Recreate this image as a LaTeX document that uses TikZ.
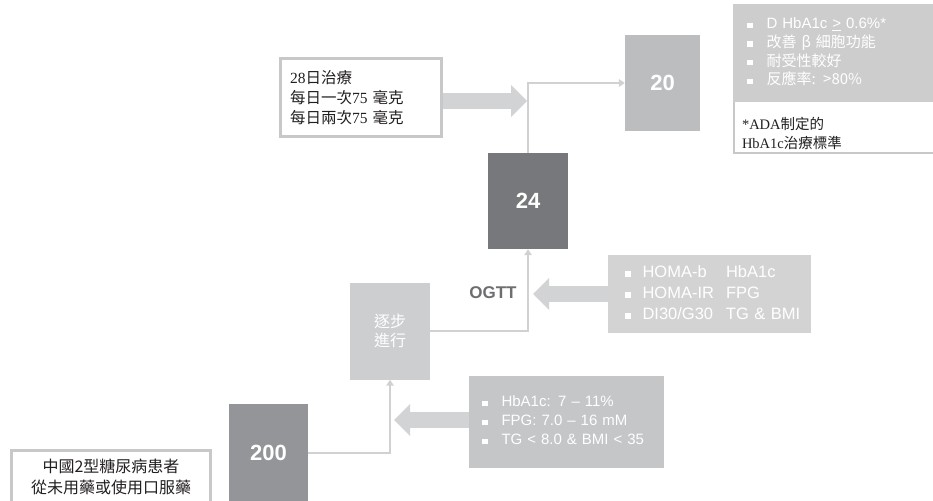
\documentclass[tikz,border=0pt]{standalone}
\usepackage{fontspec}
\setmainfont{Liberation Sans}
\newfontfamily\cjk{Noto Sans CJK TC}
\newfontfamily\latserif{Liberation Serif}
\usepackage{xcolor}
\usepackage{tikz}
\usetikzlibrary{arrows.meta,calc,positioning}

\definecolor{cDark}{HTML}{77787B}
\definecolor{cMid}{HTML}{939598}
\definecolor{cTwenty}{HTML}{BCBDBF}
\definecolor{cStep}{HTML}{CDCECF}
\definecolor{cMeas}{HTML}{D3D3D4}
\definecolor{cCrit}{HTML}{C5C6C8}
\definecolor{cOut}{HTML}{CDCDCE}
\definecolor{cBlk}{HTML}{D2D3D4}
\definecolor{cLine}{HTML}{D0D1D2}
\definecolor{cFrame}{HTML}{C8C8C8}
\definecolor{cInk}{HTML}{231F20}
\definecolor{cOgtt}{HTML}{6D6E71}

\newcommand{\bul}{\rule[0.6pt]{5.5pt}{5.5pt}}

\begin{document}
\begin{tikzpicture}[x=1pt,y=-1pt,
  box/.style={rectangle,inner sep=0pt,text=white},
  numbox/.style={box,font=\bfseries\fontsize{22}{26}\selectfont},
  framebox/.style={rectangle,draw=cFrame,line width=3pt,fill=white,text=cInk},
  conn/.style={draw=cLine,line width=2.5pt,-{Triangle[length=6pt,width=7.5pt]}},
  blk/.style={draw=cBlk,line width=16pt,-{Triangle[length=16pt,width=32pt,line width=0pt]}}]
  \useasboundingbox (0,0) rectangle (933,500);
  % study steps
  \node[framebox,anchor=north,minimum width=199pt,inner ysep=9pt,align=center,
        font=\cjk\fontsize{16}{21}\selectfont] (patient) at (111,448.5)
    {中國2型糖尿病患者\\從未用藥或使用口服藥};
  \node[numbox,fill=cMid,minimum width=79pt,minimum height=98pt] (n200) at (268.5,453) {200};
  \node[box,fill=cStep,minimum width=80pt,minimum height=97pt,align=center,
        font=\cjk\fontsize{16}{19}\selectfont] (step) at (390,331) {逐步\\進行};
  \node[numbox,fill=cDark,minimum width=80pt,minimum height=96pt] (n24) at (528,201) {24};
  \node[numbox,fill=cTwenty,minimum width=75pt,minimum height=96pt] (n20) at (662.5,83) {20};
  % side boxes
  \node[box,fill=cCrit,minimum height=92pt,inner xsep=13pt,text width=169pt,align=left,
        font=\fontsize{15}{19}\selectfont] (crit) at (566.5,422)
    {\begin{tabular}{@{}l@{\hspace{14pt}}l@{}}
      \bul & HbA1c: 7 -- 11\%\\
      \bul & FPG: 7.0 -- 16 mM\\
      \bul & TG < 8.0 \& BMI < 35
    \end{tabular}};
  \node[box,fill=cMeas,minimum height=78pt,inner xsep=17pt,text width=169pt,align=left,
        font=\fontsize{16.5}{21}\selectfont] (meas) at (709.5,294)
    {\begin{tabular}{@{}l@{\hspace{12pt}}l@{\hspace{12pt}}l@{}}
      \bul & HOMA-b & HbA1c\\
      \bul & HOMA-IR & FPG\\
      \bul & DI30/G30 & TG \& BMI
    \end{tabular}};
  \node[framebox,minimum width=161pt,minimum height=78pt,inner xsep=9.5pt,text width=142pt,
        align=left,font=\fontsize{15.5}{20}\selectfont] (dose) at (361,97.5)
    {{\latserif 28}{\cjk 日治療}\\
     {\cjk 每日一次}{\latserif 75 }{\cjk 毫克}\\
     {\cjk 每日兩次}{\latserif 75 }{\cjk 毫克}};
  \node[rectangle,draw=cFrame,line width=2pt,fill=white,text=cInk,minimum width=211pt,
        minimum height=49pt,inner xsep=8pt,text width=195pt,align=left,
        font=\fontsize{14.5}{19}\selectfont] (ada) at (839.5,127)
    {\rule{0pt}{25pt}{\latserif *ADA}{\cjk 制定的}\\{\latserif HbA1c}{\cjk 治療標準}};
  \node[box,fill=cOut,minimum height=98pt,inner xsep=14pt,text width=184pt,align=left,
        font=\fontsize{15}{18.7}\selectfont] (outcome) at (839,53)
    {\begin{tabular}{@{}l@{\hspace{14pt}}l@{}}
      \bul & D HbA1c \underline{>} 0.6\%*\\
      \bul & {\cjk 改善 β 細胞功能}\\
      \bul & {\cjk 耐受性較好}\\
      \bul & {\cjk 反應率: >80\%}
    \end{tabular}};
  \node[font=\bfseries\fontsize{17}{20}\selectfont,text=cOgtt] (ogtt) at (493,293) {OGTT};
  % connectors
  \draw[conn] (n200.east) -| (step.south);
  \draw[conn] (step.east) -| (n24.south);
  \draw[conn] (n24.north) |- (n20.west);
  % block arrows
  \coordinate (tipA) at (394,420);
  \coordinate (tipB) at (533,294);
  \coordinate (tipC) at (527,101);
  \draw[blk] (crit.west |- tipA) -- (tipA);
  \draw[blk] (meas.west |- tipB) -- (tipB);
  \draw[blk] (dose.east |- tipC) -- (tipC);
\end{tikzpicture}
\end{document}
